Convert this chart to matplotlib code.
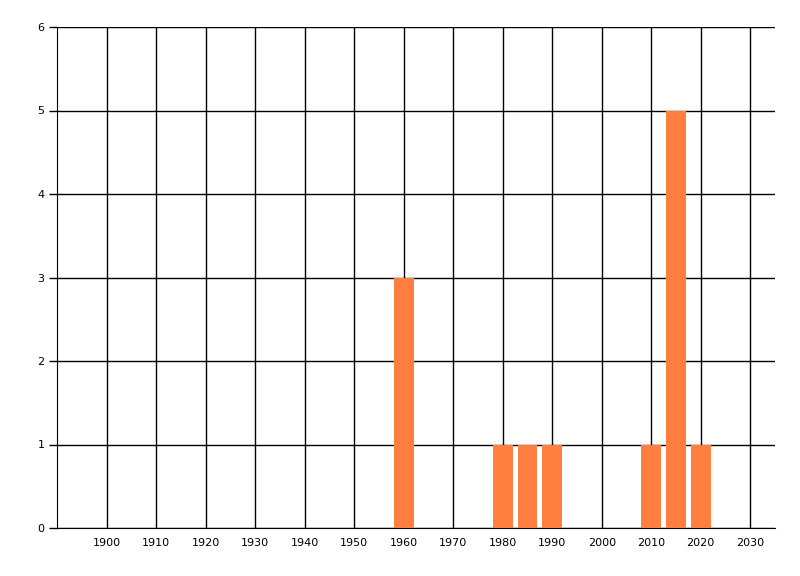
import matplotlib
matplotlib.use('Agg')
import matplotlib.pyplot as plt

# bar data
years = [1960, 1980, 1985, 1990, 2010, 2015, 2020]
counts = [3, 1, 1, 1, 1, 5, 1]
x_ticks = list(range(1900, 2031, 10))
y_ticks = [0, 1, 2, 3, 4, 5, 6]

fig = plt.figure(figsize=(8, 5.76), dpi=100)
ax = fig.add_axes([57 / 800, 48 / 576, 718 / 800, 501 / 576])

ax.set_axisbelow(True)
ax.grid(True, color='black', linewidth=1)
ax.bar(years, counts, width=4, color='#ff7f40', zorder=3)

ax.set_xlim(1890, 2035)
ax.set_ylim(0, 6)
ax.set_xticks(x_ticks)
ax.set_yticks(y_ticks)
ax.tick_params(axis='y', labelsize=8, length=6, width=1, color='black', pad=3)
ax.tick_params(axis='x', labelsize=8, length=0, pad=7)

for side in ['top', 'right']:
    ax.spines[side].set_visible(False)

fig.savefig('out.png', dpi=100)
